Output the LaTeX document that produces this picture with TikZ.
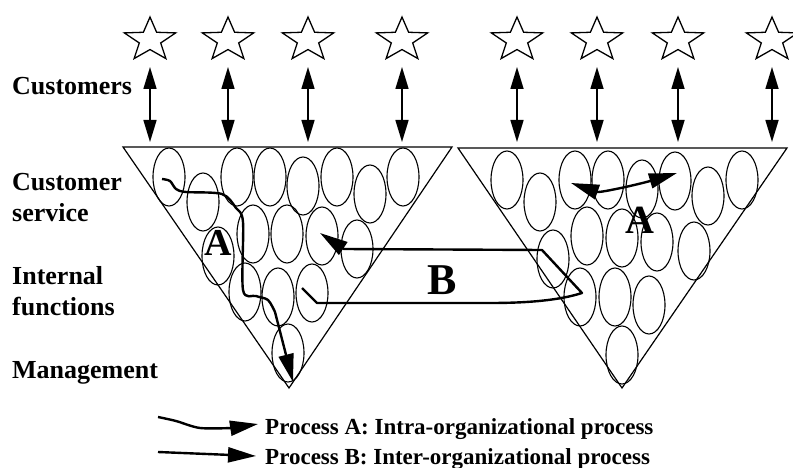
\documentclass[tikz,border=0pt]{standalone}
\usepackage{fontspec}
\setmainfont{Liberation Serif}
\usetikzlibrary{arrows.meta, positioning, shapes.geometric}

\begin{document}
\begin{tikzpicture}[
    x=1pt, y=-1pt,
    >={Triangle[length=22pt, width=13pt]},
    cust/.style={star, star points=5, star point ratio=2.4, draw, line width=1.3pt,
        minimum size=54pt, inner sep=0pt, yscale=0.85},
    unit/.style={ellipse, draw, line width=1.1pt, minimum width=32pt,
        minimum height=58pt, inner sep=0pt},
    twoway/.style={<->, line width=1.6pt},
    flow/.style={->, line width=2.4pt, line join=round, >={Triangle[length=28pt, width=15pt]}},
    lbl/.style={anchor=base west, inner sep=0pt, align=left,
        font=\fontsize{26}{31}\selectfont\bfseries},
    key/.style={anchor=base west, inner sep=0pt, font=\fontsize{23}{28}\selectfont\bfseries},
    big/.style={inner sep=0pt, font=\fontsize{#1}{#1}\selectfont\bfseries},
]
    \useasboundingbox (0,0) rectangle (793,468);

    % customers and their links
    \foreach \x [count=\i] in {150,228,308,402,517,597,678,772} {
        \node[cust] (s\i) at (\x,40) {};
        \coordinate (t\i) at (\x,142);
        \path ([yshift=-27pt]s\i.center) edge[twoway] (t\i);
    }

    % the two organisations
    \coordinate (L1) at (123,147);
    \coordinate (L2) at (452,147);
    \coordinate (L3) at (289,388);
    \coordinate (R1) at (458,148);
    \coordinate (R2) at (787,148);
    \coordinate (R3) at (622,388);
    \draw[line width=1.2pt] (L1) -- (L2) -- (L3) -- cycle;
    \draw[line width=1.2pt] (R1) -- (R2) -- (R3) -- cycle;

    \foreach \x/\y [count=\i] in {169/177, 203/202, 237/177, 270/177, 303/186, 337/177,
        370/194, 403/177, 218/256, 253/234, 287/234, 322/236, 357/249,
        245/292, 278/297, 312/293, 288/353}
        \node[unit] (l\i) at (\x,\y) {};
    \foreach \x/\y [count=\i] in {507/180, 540/202, 575/180, 608/180, 642/189, 675/181,
        708/196, 742/180, 553/259, 587/236, 622/238, 657/242, 694/251,
        580/297, 615/297, 649/305, 622/355}
        \node[unit] (r\i) at (\x,\y) {};

    % levels (base is the last line)
    \node[lbl] (cust) at (12,95)  {Customers};
    \node[lbl] (serv) at (12,222) {Customer\\service};
    \node[lbl] (func) at (12,315) {Internal\\functions};
    \node[lbl] (mgmt) at (12,378) {Management};

    % processes
    \coordinate (pa1) at (162,179);
    \coordinate (pa2) at (293,382);
    \draw[flow] plot[smooth, tension=0.5] coordinates {(pa1) (170,181) (176,189) (186,192)
        (222,194) (236,208) (243,222) (243,290) (256,296) (268,300) (275,312)} -- (pa2);

    \coordinate (pb1) at (302,288);
    \coordinate (pb2) at (320,233);
    \draw[flow] (pb1) -- (317,303) -- (490,303)
        .. controls (530,303) and (560,300) .. (582,293)
        -- (542,250) -- (344,249) -- (pb2);

    \coordinate (ra1) at (571,183);
    \coordinate (ra2) at (677,173);
    \draw[flow, <->] (ra1) .. controls (600,193) and (640,184) .. (ra2);

    \node[big=38] (la) at (218,243) {A};
    \node[big=44] (lb) at (442,280) {B};
    \node[big=40] (rb) at (640,220) {A};

    % legend
    \coordinate (ka1) at (158,417);
    \coordinate (ka2) at (258,424);
    \draw[flow] plot[smooth] coordinates {(ka1) (176,421) (200,428) (232,428)} -- (ka2);
    \coordinate (kb1) at (158,452);
    \coordinate (kb2) at (256,456);
    \draw[flow] (kb1) -- (kb2);
    \node[key] (ta) at (265,434) {Process A: Intra-organizational process};
    \node[key] (tb) at (265,464) {Process B: Inter-organizational process};
\end{tikzpicture}
\end{document}
